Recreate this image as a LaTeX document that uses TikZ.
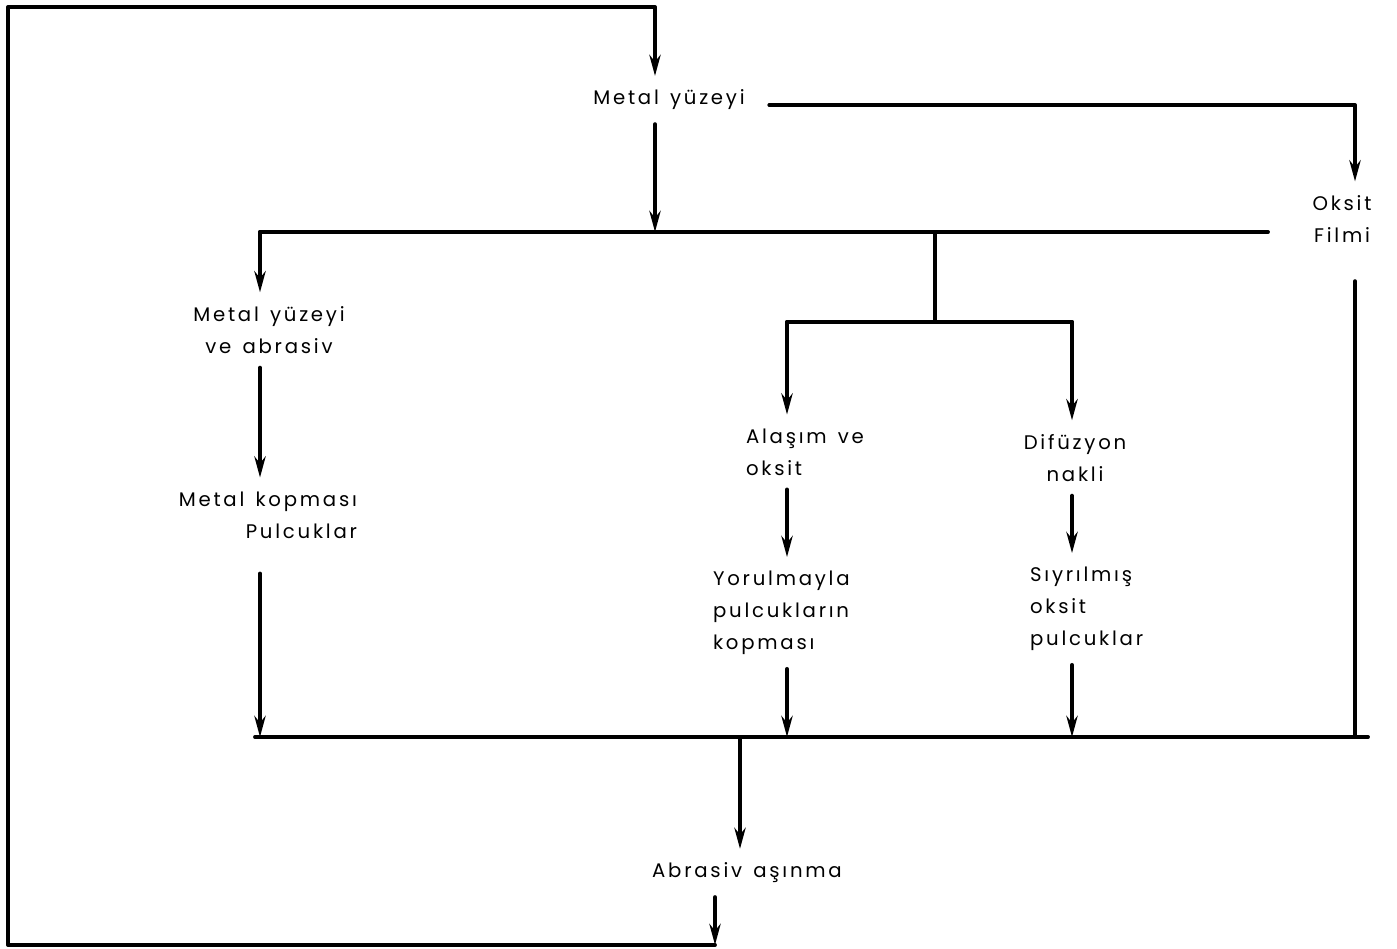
\documentclass[tikz,border=0pt]{standalone}
\usepackage{fontspec}
\setmainfont{Poppins}[LetterSpace=14, WordSpace=1.4]
\usetikzlibrary{arrows.meta,positioning}

\begin{document}
\begin{tikzpicture}[x=0.01cm, y=-0.01cm, line cap=round, line join=round,
  wire/.style={line width=1.1pt},
  flow/.style={wire, -{Stealth[length=6pt,width=3.2pt]}},
  lbl/.style={inner sep=1.5pt, outer sep=2.5pt,
    font=\fontsize{5.6}{9.1}\selectfont}]
  \useasboundingbox (0,0) rectangle (1397,949);

  % Stages of the wear process.
  \node[lbl, anchor=base] (metal) at (669,105) {Metal yüzeyi};
  \node[lbl, align=center] (oksit) at (1342,219) {Oksit\\Filmi};
  \node[lbl, align=center] (abr) at (269,330) {Metal yüzeyi\\ve abrasiv};
  \node[lbl, align=right, anchor=east] (kop) at (371,515)
    {Metal kopması\\Pulcuklar};
  \node[lbl, align=left, anchor=west] (alas) at (732,452) {Alaşım ve\\oksit};
  \node[lbl, align=center] (dif) at (1075,458) {Difüzyon\\nakli};
  \node[lbl, align=left, anchor=west] (yor) at (699,613)
    {Yorulmayla\\pulcukların\\kopması};
  \node[lbl, align=left, anchor=west] (siy) at (1016,609)
    {Sıyrılmış\\oksit\\pulcuklar};
  \node[lbl] (asin) at (747,873) {Abrasiv aşınma};

  % Corners and branch points.
  \coordinate (topL) at (8,7);
  \coordinate (topR) at (655,7);
  \coordinate (botL) at (8,945);
  \coordinate (botR) at (715,945);
  \coordinate (oxC) at (1355,105);
  \coordinate (jTop) at (655,232);
  \coordinate (jL) at (260,232);
  \coordinate (jM) at (935,232);
  \coordinate (jR) at (1268,232);
  \coordinate (sM) at (935,322);
  \coordinate (sL) at (787,322);
  \coordinate (sR) at (1072,322);
  \coordinate (bL) at (255,737);
  \coordinate (bR) at (1368,737);
  \coordinate (bOut) at (740,737);

  % Feedback loop round the whole chart.
  \draw[flow] (asin.south -| botR) -- (botR);
  \draw[flow] (botR) -- (botL) -- (topL) -- (topR) -- (metal.north -| topR);

  \draw[flow] (metal.south -| topR) -- (jTop);
  \draw[flow] ([xshift=3pt]metal.base east) -- (oxC) -- (oksit.north -| oxC);
  \draw[wire] (jR) -- (jL);
  \draw[wire] (jM) -- (sM);
  \draw[wire] (sL) -- (sR);

  % Left column.
  \draw[flow] (jL) -- (abr.north -| jL);
  \draw[flow] (abr.south -| jL) -- (kop.north -| jL);
  \draw[flow, shorten <=6pt] (kop.south -| jL) -- (jL |- bL);

  % Middle and right columns.
  \draw[flow] (sL) -- (alas.north -| sL);
  \draw[flow] (alas.south -| sL) -- (yor.north -| sL);
  \draw[flow] (yor.south -| sL) -- (sL |- bL);
  \draw[flow] (sR) -- (dif.north -| sR);
  \draw[flow] (dif.south -| sR) -- (siy.north -| sR);
  \draw[flow] (siy.south -| sR) -- (sR |- bL);
  \draw[wire, shorten <=7pt] (oksit.south -| oxC) -- (oxC |- bL);

  % Collecting bar and the result.
  \draw[wire] (bL) -- (bR);
  \draw[flow] (bOut) -- (asin.north -| bOut);
\end{tikzpicture}
\end{document}
